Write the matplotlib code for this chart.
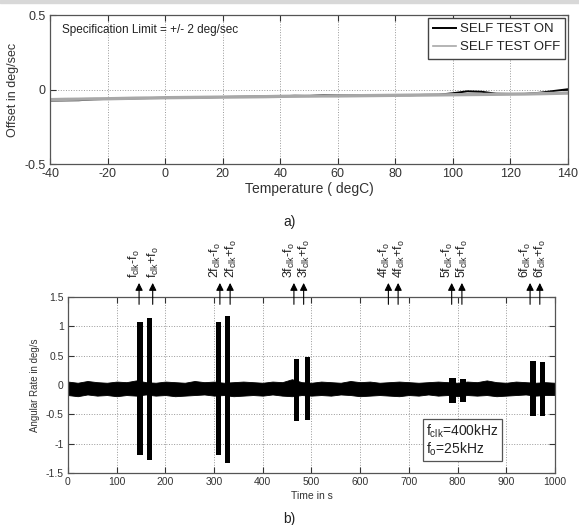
import matplotlib.pyplot as plt
import matplotlib.patches as mpatches

plt.rcParams['font.family'] = ['Liberation Sans', 'DejaVu Sans']
plt.rcParams['font.size'] = 9
plt.rcParams['text.color'] = '#222222'
plt.rcParams['axes.unicode_minus'] = False
plt.rcParams['mathtext.fontset'] = 'custom'
plt.rcParams['mathtext.rm'] = 'Liberation Sans'
plt.rcParams['mathtext.it'] = 'Liberation Sans'

# a) offset vs temperature
temp = list(range(-40, 141, 5))
offset_off = [-0.068, -0.066, -0.065, -0.063, -0.062, -0.060, -0.058, -0.057,
              -0.055, -0.054, -0.053, -0.052, -0.051, -0.050, -0.049, -0.048,
              -0.046, -0.045, -0.044, -0.043, -0.043, -0.042, -0.041, -0.040,
              -0.039, -0.038, -0.037, -0.036, -0.035, -0.034, -0.033, -0.032,
              -0.031, -0.030, -0.028, -0.026, -0.024]
offset_on = [-0.074, -0.073, -0.072, -0.066, -0.063, -0.061, -0.059, -0.057,
             -0.056, -0.055, -0.054, -0.052, -0.050, -0.049, -0.048, -0.047,
             -0.046, -0.042, -0.044, -0.037, -0.040, -0.040, -0.039, -0.038,
             -0.037, -0.038, -0.036, -0.035, -0.025, -0.012, -0.015, -0.028,
             -0.030, -0.030, -0.022, -0.010, 0.002]

# b) angular rate vs time: noise envelope and disturbance bursts
t_env = list(range(0, 1001, 20))
env_hi = [0.06, 0.04, 0.07, 0.05, 0.04, 0.06, 0.05, 0.08, 0.05, 0.04,
          0.06, 0.05, 0.04, 0.07, 0.05, 0.06, 0.04, 0.05, 0.06, 0.05,
          0.04, 0.06, 0.05, 0.10, 0.05, 0.04, 0.06, 0.05, 0.04, 0.07,
          0.05, 0.06, 0.04, 0.05, 0.06, 0.05, 0.04, 0.05, 0.06, 0.05,
          0.04, 0.06, 0.05, 0.08, 0.05, 0.04, 0.06, 0.05, 0.04, 0.05, 0.04]
env_lo = [-0.17, -0.19, -0.16, -0.18, -0.17, -0.19, -0.17, -0.18, -0.16, -0.18,
          -0.17, -0.19, -0.18, -0.17, -0.16, -0.18, -0.17, -0.19, -0.18, -0.17,
          -0.18, -0.16, -0.18, -0.19, -0.17, -0.18, -0.17, -0.18, -0.16, -0.17,
          -0.19, -0.18, -0.17, -0.18, -0.19, -0.17, -0.18, -0.16, -0.18, -0.17,
          -0.19, -0.17, -0.18, -0.17, -0.19, -0.18, -0.17, -0.16, -0.18, -0.17, -0.17]
burst_t = [148, 168, 310, 328, 470, 492, 790, 812, 955, 975]
burst_w = [11, 10, 10, 10, 10, 11, 13, 12, 11, 11]
burst_hi = [1.07, 1.15, 1.08, 1.18, 0.45, 0.48, 0.12, 0.10, 0.41, 0.40]
burst_lo = [-1.19, -1.27, -1.20, -1.33, -0.62, -0.59, -0.30, -0.28, -0.53, -0.52]
arrow_t = [146, 174, 312, 333, 464, 484, 658, 678, 788, 809, 949, 969]
arrow_lbl = [r'$\mathrm{f_{clk}}$-$\mathrm{f_o}$', r'$\mathrm{f_{clk}}$+$\mathrm{f_o}$',
             r'2$\mathrm{f_{clk}}$-$\mathrm{f_o}$', r'2$\mathrm{f_{clk}}$+$\mathrm{f_o}$',
             r'3$\mathrm{f_{clk}}$-$\mathrm{f_o}$', r'3$\mathrm{f_{clk}}$+$\mathrm{f_o}$',
             r'4$\mathrm{f_{clk}}$-$\mathrm{f_o}$', r'4$\mathrm{f_{clk}}$+$\mathrm{f_o}$',
             r'5$\mathrm{f_{clk}}$-$\mathrm{f_o}$', r'5$\mathrm{f_{clk}}$+$\mathrm{f_o}$',
             r'6$\mathrm{f_{clk}}$-$\mathrm{f_o}$', r'6$\mathrm{f_{clk}}$+$\mathrm{f_o}$']

fig = plt.figure(figsize=(5.79, 5.25), dpi=100)
fig.patches.append(mpatches.Rectangle((0, 0.994), 1, 0.006, transform=fig.transFigure,
                                      color='#d8d8d8', zorder=0))


def style(ax, size):
    ax.set_axisbelow(True)
    ax.grid(True, linestyle=':', color='#999999', linewidth=0.7)
    ax.tick_params(direction='in', length=4, colors='#333333', labelsize=size,
                   top=True, right=True, pad=3)
    for s in ax.spines.values():
        s.set_color('#555555')
        s.set_linewidth(0.9)


ax1 = fig.add_axes([0.0864, 0.6876, 0.8946, 0.2838])
ax1.plot(temp, offset_on, color='black', lw=1.4, label='SELF TEST ON')
ax1.plot(temp, offset_off, color='#a8a8a8', lw=2.4, label='SELF TEST OFF')
ax1.set_xlim(-40, 140)
ax1.set_ylim(-0.5, 0.5)
ax1.set_xticks(range(-40, 141, 20))
ax1.set_yticks([-0.5, 0, 0.5])
ax1.set_yticklabels(['-0.5', '0', '0.5'])
ax1.set_xlabel('Temperature ( degC)', color='#333333', fontsize=10, labelpad=1)
ax1.set_ylabel('Offset in deg/sec', color='#333333', fontsize=9, labelpad=4)
ax1.text(-35.8, 0.4, 'Specification Limit = +/- 2 deg/sec', fontsize=8.5, va='center')
leg = ax1.legend(loc='upper right', fontsize=9.5, fancybox=False, borderaxespad=0.2,
                 handlelength=1.7, handletextpad=0.3, labelspacing=0.45, framealpha=1)
leg.get_frame().set_edgecolor('#444444')
leg.legend_handles[1].set_linewidth(1.2)
style(ax1, 9)
fig.text(0.5, 0.577, 'a)', ha='center', va='center', fontsize=10)

ax2 = fig.add_axes([0.1174, 0.099, 0.841, 0.335])
ax2.fill_between(t_env, env_lo, env_hi, color='black', lw=0.6)
ax2.bar(burst_t, [h - l for h, l in zip(burst_hi, burst_lo)], bottom=burst_lo,
        width=burst_w, color='black', zorder=3)
ax2.set_xlim(0, 1000)
ax2.set_ylim(-1.5, 1.5)
ax2.set_xticks(range(0, 1001, 100))
ax2.set_yticks([-1.5, -1, -0.5, 0, 0.5, 1, 1.5])
ax2.set_yticklabels(['-1.5', '-1', '-0.5', '0', '0.5', '1', '1.5'])
ax2.set_xlabel('Time in s', color='#333333', fontsize=7.5, labelpad=3)
ax2.set_ylabel('Angular Rate in deg/s', color='#333333', fontsize=7, labelpad=4)
style(ax2, 7.5)
for i, (x, lbl) in enumerate(zip(arrow_t, arrow_lbl)):
    ax2.annotate('', xy=(x, 1.79), xytext=(x, 1.33),
                 arrowprops=dict(arrowstyle='-|>', color='black', lw=0.8, mutation_scale=11),
                 annotation_clip=False)
    # spread each pair of labels apart so they stay readable
    dx = -9 if i % 2 == 0 else 2
    ax2.text(x + dx, 1.83, lbl, rotation=90, ha='center', va='bottom', fontsize=9,
             clip_on=False)
ax2.text(736, -0.94, 'f$_\\mathrm{clk}$=400kHz\nf$_\\mathrm{o}$=25kHz', fontsize=10,
         va='center', ha='left', linespacing=1.05,
         bbox=dict(boxstyle='square,pad=0.25', fc='white', ec='#555555', lw=0.9), zorder=5)
fig.text(0.5, 0.011, 'b)', ha='center', va='center', fontsize=10)

fig.savefig('out.png', dpi=100)
